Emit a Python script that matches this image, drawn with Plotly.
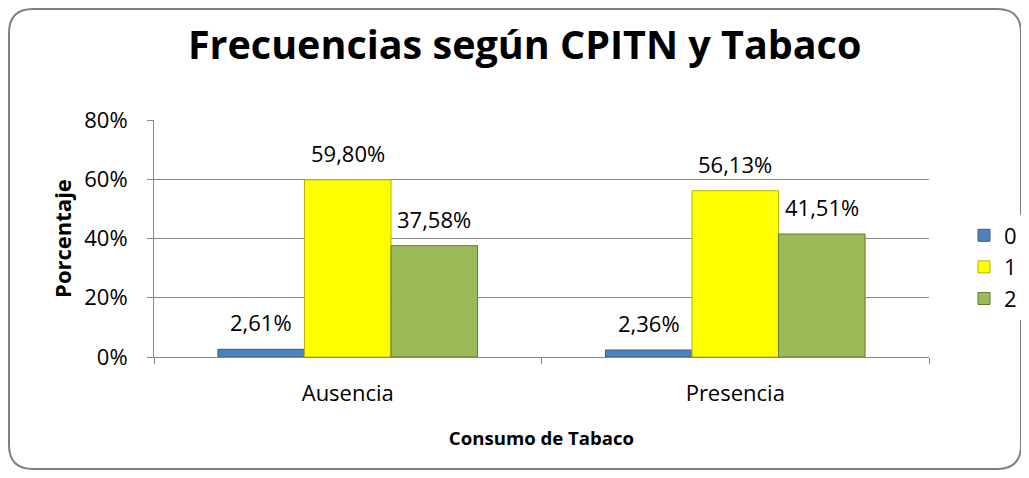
import plotly.graph_objects as go

categories = ["Ausencia", "Presencia"]
series_names = ["0", "1", "2"]
values_0 = [0.0261, 0.0236]
values_1 = [0.5980, 0.5613]
values_2 = [0.3758, 0.4151]
colors = ["#4F81BD", "#FFFF00", "#9BBB59"]
line_colors = ["#385D8A", "#B5B500", "#5F7A30"]

# page body has an 8px margin; figure sized to fit the window
W, H = 1021, 470
ml, mr, mt, mb = 146, 100, 112, 121
BARGAP = 0.33

all_series = [values_0, values_1, values_2]
fig = go.Figure()
for name, vals, c, lc in zip(series_names, all_series, colors, line_colors):
    fig.add_trace(go.Bar(
        x=categories, y=vals, name=name,
        marker=dict(color=c, line=dict(color=lc, width=1)),
    ))

# data labels as annotations, positioned over each bar via the category axis
bw = (1 - BARGAP) / len(all_series)
annotations = []
for k, vals in enumerate(all_series):
    for i, v in enumerate(vals):
        annotations.append(dict(
            x=i + (k - (len(all_series) - 1) / 2) * bw, y=v, xref="x", yref="y",
            text=f"{v*100:.2f}%".replace(".", ","), showarrow=False,
            yanchor="middle", yshift=27, font=dict(size=22, color="#000000"),
        ))

# rounded outer border in paper coordinates
pw, ph = W - ml - mr, H - mt - mb
def px(x): return (x - ml) / pw
def py(y): return (H - mb - y) / ph
x0, x1, y0, y1, r = 1, 1013, 1, 461, 24
path = (f"M {px(x0+r)},{py(y0)} L {px(x1-r)},{py(y0)} Q {px(x1)},{py(y0)} {px(x1)},{py(y0+r)} "
        f"L {px(x1)},{py(y1-r)} Q {px(x1)},{py(y1)} {px(x1-r)},{py(y1)} "
        f"L {px(x0+r)},{py(y1)} Q {px(x0)},{py(y1)} {px(x0)},{py(y1-r)} "
        f"L {px(x0)},{py(y0+r)} Q {px(x0)},{py(y0)} {px(x0+r)},{py(y0)} Z")

fig.update_layout(
    width=W, height=H,
    margin=dict(l=ml, r=mr, t=mt, b=mb, autoexpand=False),
    paper_bgcolor="white", plot_bgcolor="white",
    separators=",.",
    font=dict(family="Open Sans, Noto Sans, sans-serif", size=22, color="#000000"),
    title=dict(text="<b>Frecuencias según CPITN y Tabaco</b>", x=0.506, xanchor="center",
               y=1 - 37 / H, yanchor="middle", font=dict(size=39.5)),
    bargap=BARGAP, bargroupgap=0,
    legend=dict(x=(956 - ml) / pw, y=(H - mb - 259) / ph, xanchor="left", yanchor="middle",
                font=dict(size=22), itemwidth=30, tracegroupgap=0),
    annotations=annotations,
    shapes=[dict(type="path", xref="paper", yref="paper", path=path,
                 line=dict(color="#808080", width=2), layer="below")],
    xaxis=dict(title=dict(text="<b>Consumo de Tabaco</b>", font=dict(size=18.6), standoff=25),
               showline=True, linecolor="#888888", linewidth=1,
               ticks="outside", tickson="boundaries", tickcolor="#888888", ticklen=6,
               ticklabelstandoff=17, tickfont=dict(size=22)),
    yaxis=dict(title=dict(text="<b>Porcentaje</b>", font=dict(size=22), standoff=6),
               range=[0, 0.8], dtick=0.2, tickformat=".0%",
               showline=True, linecolor="#888888", linewidth=1,
               ticks="outside", tickcolor="#888888", ticklen=6,
               ticklabelstandoff=15,
               showgrid=True, gridcolor="#888888", gridwidth=1,
               tickfont=dict(size=22), zeroline=False),
)

fig.write_html("out.html")
